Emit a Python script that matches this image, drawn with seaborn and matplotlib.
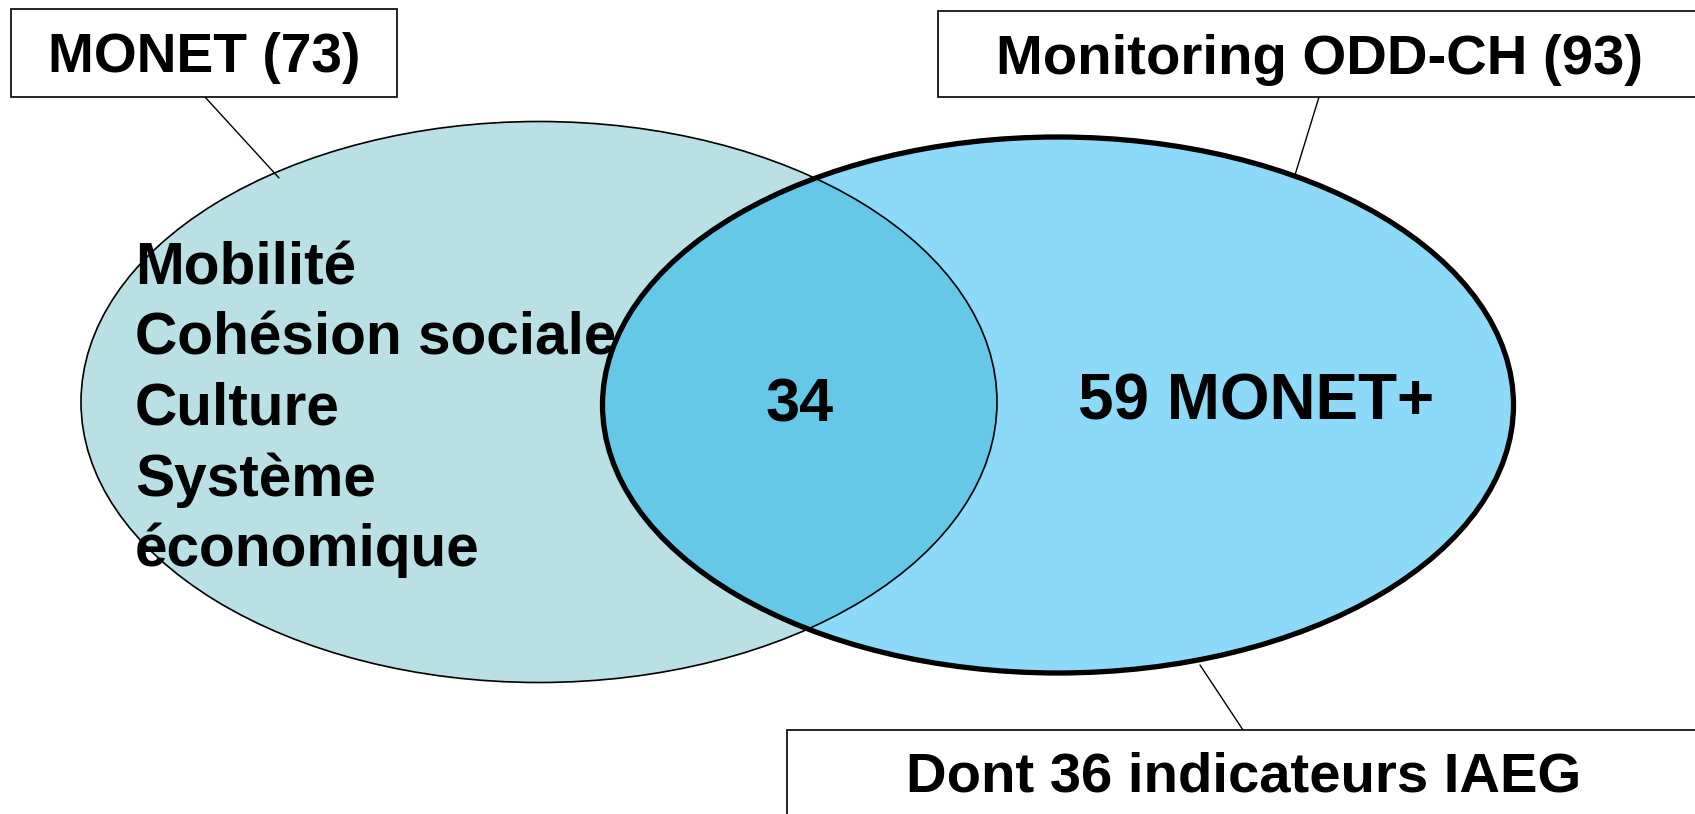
import matplotlib.pyplot as plt
import seaborn as sns
from matplotlib.patches import Ellipse, Rectangle

# données du diagramme
set_names = ['MONET', 'Monitoring ODD-CH']
set_totals = [73, 93]
overlap_count = 34
only_right_label = 'MONET+'
iaeg_count = 36
left_only_themes = ['Mobilité', 'Cohésion sociale', 'Culture', 'Système', 'économique']

sns.set_theme(style='white')
plt.rcParams['font.family'] = ['Liberation Sans', 'DejaVu Sans']
plt.rcParams['text.color'] = 'black'

fig = plt.figure(figsize=(16.95, 8.14), dpi=100)
ax = fig.add_axes([0, 0, 1, 1])
ax.set_xlim(0, 1695)
ax.set_ylim(814, 0)
ax.set_aspect('equal')
ax.axis('off')

# ellipses
left = Ellipse((539, 402), 916, 561, facecolor='#B9E0E5', edgecolor='none', zorder=1)
right = Ellipse((1058, 405), 911, 536, facecolor='#8CDAF7', edgecolor='none', zorder=2)
ax.add_patch(left)
ax.add_patch(right)

# intersection
inter = Ellipse((539, 402), 916, 561, facecolor='#64C8E6', edgecolor='none', zorder=3)
ax.add_patch(inter)
inter.set_clip_path(Ellipse((1058, 405), 911, 536, transform=ax.transData))

ax.add_patch(Ellipse((539, 402), 916, 561, facecolor='none', edgecolor='black', lw=1.2, zorder=4))
ax.add_patch(Ellipse((1058, 405), 911, 536, facecolor='none', edgecolor='black', lw=3.8, zorder=5))

# connecteurs
ax.plot([205, 279], [97, 178], color='black', lw=1.0, zorder=6)
ax.plot([1319, 1295], [97, 175], color='black', lw=1.0, zorder=6)
ax.plot([1243, 1200], [730, 665], color='black', lw=1.0, zorder=6)

# boîtes
ax.add_patch(Rectangle((11, 9), 386, 88, facecolor='white', edgecolor='black', lw=1.2, zorder=7))
ax.add_patch(Rectangle((938, 11), 800, 86, facecolor='white', edgecolor='black', lw=1.2, zorder=7))
ax.add_patch(Rectangle((787, 730), 960, 120, facecolor='white', edgecolor='black', lw=1.2, zorder=7))

ax.text(204, 58, f'{set_names[0]} ({set_totals[0]})', ha='center', va='center',
        fontsize=39.7, fontweight='bold', zorder=8)
ax.text(1319, 60, f'{set_names[1]} ({set_totals[1]})', ha='center', va='center',
        fontsize=40.5, fontweight='bold', zorder=8)
ax.text(1244, 778, f'Dont {iaeg_count} indicateurs IAEG', ha='center', va='center',
        fontsize=40.5, fontweight='bold', zorder=8)

# contenu
ax.text(135, 410, '\n'.join(left_only_themes), ha='left', va='center',
        fontsize=42.2, fontweight='bold', linespacing=1.35, zorder=8)
ax.text(800, 406, str(overlap_count), ha='center', va='center',
        fontsize=44, fontweight='bold', zorder=8)
ax.text(1256, 402, f'{set_totals[1] - overlap_count} {only_right_label}', ha='center', va='center',
        fontsize=46, fontweight='bold', zorder=8)

fig.savefig('out.png', dpi=100)
